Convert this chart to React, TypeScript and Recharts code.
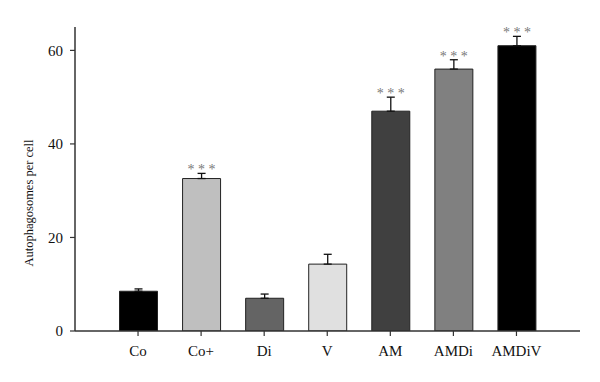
import React from 'react';
import { BarChart, Bar, XAxis, YAxis, ErrorBar, LabelList, Cell } from 'recharts';

const categories = ['Co', 'Co+', 'Di', 'V', 'AM', 'AMDi', 'AMDiV'];
const values = [8.5, 32.6, 7.0, 14.3, 47.0, 56.0, 61.0];
const errors = [0.5, 1.1, 0.9, 2.1, 3.0, 2.0, 2.0];
const stars = ['', '***', '', '', '***', '***', '***'];
const colors = ['#000000', '#bfbfbf', '#646464', '#e0e0e0', '#404040', '#808080', '#000000'];
const yTicks = [0, 20, 40, 60];

const data = categories.map((c, i) => ({
  name: c,
  value: values[i],
  err: [0, errors[i]],
  stars: stars[i],
}));

const FONT = '"Liberation Serif", "Times New Roman", serif';

const StarLabel = (props: any) => {
  const { x, y, width, height, index } = props;
  const s = stars[index];
  if (!s) return null;
  const perUnit = height / values[index];
  const errTop = y - errors[index] * perUnit;
  return (
    <text
      x={x + width / 2}
      y={errTop + 1}
      textAnchor="middle"
      fill="#777777"
      fontSize={14}
      fontFamily={FONT}
    >
      {s.split('').join(' ')}
    </text>
  );
};

export default function App() {
  return (
    <div style={{ position: 'absolute', left: 0, top: 0, background: '#fff' }}>
      <BarChart
        width={600}
        height={382}
        data={data}
        margin={{ top: 27, right: 20, bottom: 11, left: 0 }}
        barSize={38}
      >
        <XAxis
          dataKey="name"
          height={40}
          padding={{ left: 31.5, right: 32 }}
          axisLine={{ stroke: '#333333', strokeWidth: 1.5 }}
          tickLine={{ stroke: '#333333', strokeWidth: 1.2 }}
          tickSize={5}
          tickMargin={9}
          tick={{ fill: '#111111', fontSize: 15, fontFamily: FONT }}
        />
        <YAxis
          width={75}
          domain={[0, 65]}
          ticks={yTicks}
          allowDataOverflow
          axisLine={{ stroke: '#333333', strokeWidth: 1.5 }}
          tickLine={{ stroke: '#333333', strokeWidth: 1.2 }}
          tickSize={5}
          tickMargin={7}
          tick={{ fill: '#111111', fontSize: 15, fontFamily: FONT }}
          label={{
            content: () => (
              <text
                x={30}
                y={203}
                transform="rotate(-90 30 203)"
                textAnchor="middle"
                dominantBaseline="middle"
                fill="#111111"
                fontSize={12.5}
                fontFamily={FONT}
              >
                Autophagosomes per cell
              </text>
            ),
          }}
        />
        <Bar dataKey="value" isAnimationActive={false} stroke="#222222" strokeWidth={1}>
          {data.map((d, i) => (
            <Cell key={d.name} fill={colors[i]} />
          ))}
          <ErrorBar dataKey="err" direction="y" width={4} stroke="#111111" strokeWidth={1.3} />
          <LabelList dataKey="stars" content={StarLabel} />
        </Bar>
      </BarChart>
    </div>
  );
}
